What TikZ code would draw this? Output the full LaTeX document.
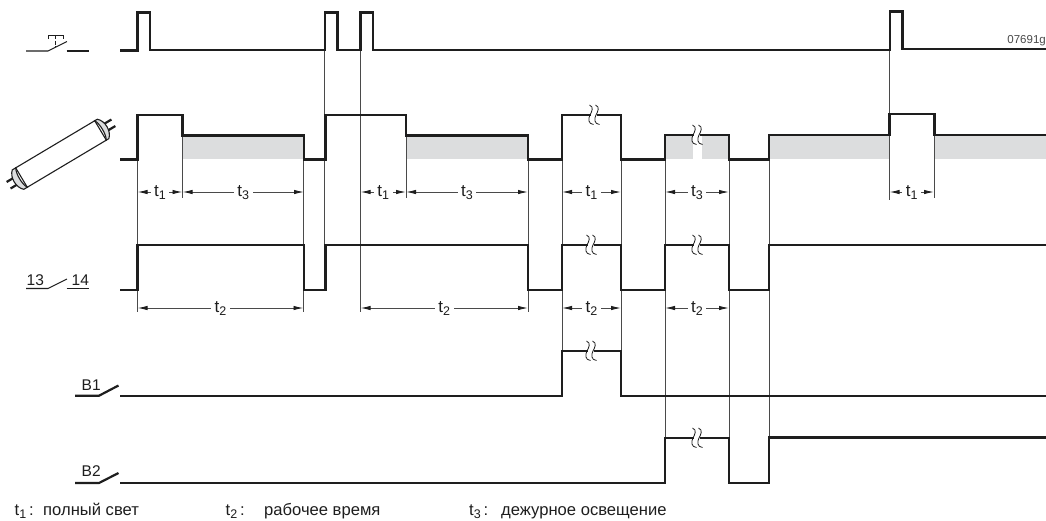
\documentclass[tikz,border=0pt]{standalone}
\usepackage{fontspec}
\setmainfont{Liberation Sans}
\usetikzlibrary{arrows.meta}
\definecolor{ink}{HTML}{1E1E1E}
\definecolor{band}{HTML}{DCDDDE}
\definecolor{guide}{HTML}{4A4A4A}
\newcommand{\tsb}[1]{t\raisebox{-0.34ex}{\fontsize{12.5}{14}\selectfont #1}}
\newcommand{\squig}[2]{%
  \fill[white] (#1-3,#2-3.5) rectangle (#1+3,#2+3.5);
  \foreach \dx in {-3,3}{
    \draw[squigline] (#1+\dx-1.5,#2-10) .. controls (#1+\dx+3.5,#2-8) and (#1+\dx+0.5,#2-3) .. (#1+\dx-1,#2) .. controls (#1+\dx-3,#2+3.5) and (#1+\dx-3,#2+9) .. (#1+\dx+2.5,#2+9.5);
  }}
\newcommand{\dimln}[5]{%
  \draw[dimline] (#1,#3) -- node[dimlabel] (#5) {\tsb{#4}} (#2,#3);}
\tikzset{
  wave/.style={draw=ink,line width=2.8pt,line join=miter,line cap=butt},
  guideline/.style={draw=guide,line width=0.8pt},
  dimline/.style={draw=guide,line width=0.9pt,{Latex[length=10pt,width=4.4pt,color=ink]}-{Latex[length=10pt,width=4.4pt,color=ink]}},
  dimlabel/.style={fill=white,inner xsep=3.5pt,inner ysep=1pt,yshift=-0.8pt,font=\fontsize{17}{19}\selectfont,text=ink},
  squigline/.style={draw=ink,line width=0.8pt},
  sym/.style={draw=ink,line width=1.1pt},
  symthin/.style={draw=ink,line width=0.9pt},
  symthick/.style={draw=ink,line width=2.2pt},
  lab/.style={font=\fontsize{15.5}{18}\selectfont,text=ink,inner sep=0pt},
  leg/.style={font=\fontsize{16.6}{19}\selectfont,text=ink,inner sep=0pt,anchor=base west},
  x=1pt,y=-1pt
}
\begin{document}
\begin{tikzpicture}
\useasboundingbox (0,0) rectangle (1046,520);
\fill[white] (0,0) rectangle (1046,520);
% grey bands
\foreach \a/\b in {183/303,406/528,665/693,702/729,769/889,934/1046}
  \fill[band] (\a,136) rectangle (\b,158.5);
% guide lines
\foreach \x/\a/\b in {137.5/159/245,137.5/290/312,182.5/135/198,303.5/159/312,324.7/50/245,360.5/50/312,406/135/198,528/159/312,562/159/350,621/159/350,665/159/437,729/159/437,769/159/437,889.5/50/200,934/135/198}
  \draw[guideline] (\x,\a) -- (\x,\b);
% waveforms
\draw[wave] (120,50.5) -- (137.5,50.5) -- (137.5,12.5) -- (150,12.5) -- (150,50) -- (325,50) -- (325,12.5) -- (337.5,12.5) -- (337.5,50) -- (360.5,50) -- (360.5,12.5) -- (373,12.5) -- (373,50) -- (890,50) -- (890,11.5) -- (902.5,11.5) -- (902.5,49) -- (1046,49);
\draw[wave] (120,159.5) -- (137.5,159.5) -- (137.5,115) -- (182.5,115) -- (182.5,135.5) -- (304,135.5) -- (304,159.5) -- (325.5,159.5) -- (325.5,115) -- (406,115) -- (406,135.5) -- (528,135.5) -- (528,159.5) -- (562,159.5) -- (562,115) -- (621,115) -- (621,159.5) -- (665,159.5) -- (665,135) -- (729,135) -- (729,159.5) -- (769,159.5) -- (769,135) -- (889.5,135) -- (889.5,114) -- (934.5,114) -- (934.5,135) -- (1046,135);
\draw[wave] (120,290) -- (137.5,290) -- (137.5,245) -- (304,245) -- (304,290) -- (325.5,290) -- (325.5,245) -- (528,245) -- (528,290) -- (562,290) -- (562,245) -- (621,245) -- (621,290) -- (665,290) -- (665,245) -- (729,245) -- (729,290) -- (769,290) -- (769,245) -- (1046,245);
\draw[wave] (120,396) -- (562,396) -- (562,351) -- (621,351) -- (621,396) -- (1046,396);
\draw[wave] (120,483) -- (665,483) -- (665,438) -- (729,438) -- (729,483) -- (769,483) -- (769,437.5) -- (1046,437.5);
% break marks
\squig{594}{115}
\squig{697}{135}
\squig{591}{245}
\squig{697}{245}
\squig{591}{351}
\squig{697}{438}
% dimensions
\dimln{137.5}{182.5}{192}{1}{da}
\dimln{182.5}{304}{192}{3}{db}
\dimln{360.5}{406}{192}{1}{dc}
\dimln{406}{528}{192}{3}{dd}
\dimln{562}{621}{192}{1}{de}
\dimln{665}{729}{192}{3}{df}
\dimln{889.5}{934}{192}{1}{dg}
\dimln{137.5}{303.5}{308}{2}{dh}
\dimln{360.5}{528}{308}{2}{di}
\dimln{562}{621}{308}{2}{dj}
\dimln{665}{729}{308}{2}{dk}
% push button symbol
\draw[sym] (26,51) -- (48,51) -- (67,41.5);
\draw[sym] (66.5,51) -- (88.5,51);
\draw[symthin] (48.5,39) -- (48.5,35) -- (63,35) -- (63,39);
\draw[symthin,dash pattern=on 4pt off 1.5pt] (55.7,35) -- (55.7,47);
% lamp
\begin{scope}[shift={(61,154)},rotate=30.8]
  \draw[line width=2.2pt,draw=ink] (50,-3.8) -- (61,-3.8) (50,3.8) -- (61,3.8);
  \draw[line width=2.2pt,draw=ink] (-50,-3.8) -- (-61,-3.8) (-50,3.8) -- (-61,3.8);
  \draw[sym,fill=white] (-46,-11.3) -- (46,-11.3) -- (46,11.3) -- (-46,11.3) -- cycle;
  \draw[sym,fill=band] (46,-11.3) .. controls (49,-6) and (49,6) .. (46,11.3) -- (49,11.3) .. controls (55,6) and (55,-6) .. (49,-11.3) -- cycle;
  \draw[sym,fill=band] (-46,-11.3) .. controls (-49,-6) and (-49,6) .. (-46,11.3) -- (-50,11.3) .. controls (-56,6) and (-56,-6) .. (-50,-11.3) -- cycle;
\end{scope}
% 13/14 contact
\draw[sym] (26,288.5) -- (48,288.5) -- (67,279);
\draw[sym] (66.5,288.5) -- (88.5,288.5);
\node[lab,anchor=base west] (c13) at (26.5,285) {13};
\node[lab,anchor=base west] (c14) at (71.5,285) {14};
% B1, B2 contacts
\draw[symthick] (75,395.7) -- (99,395.7) -- (118.5,385.5);
\node[lab,anchor=base west] (b1) at (81.5,390) {B1};
\draw[symthick] (75,483) -- (99,483) -- (118.5,473);
\node[lab,anchor=base west] (b2) at (81.5,476.5) {B2};
% drawing number
\node[anchor=base east,inner sep=0pt,font=\fontsize{11.5}{13}\selectfont,text=guide] (num) at (1046,43) {07691g};
% legend
\node[leg] (l1) at (14.5,515.5) {\tsb{1}\,:};
\node[leg] (l2) at (43,515.5) {полный свет};
\node[leg] (l3) at (225.5,515.5) {\tsb{2}\,:};
\node[leg] (l4) at (264,515.5) {рабочее время};
\node[leg] (l5) at (469,515.5) {\tsb{3}\,:};
\node[leg] (l6) at (501,515.5) {дежурное освещение};
\end{tikzpicture}
\end{document}
